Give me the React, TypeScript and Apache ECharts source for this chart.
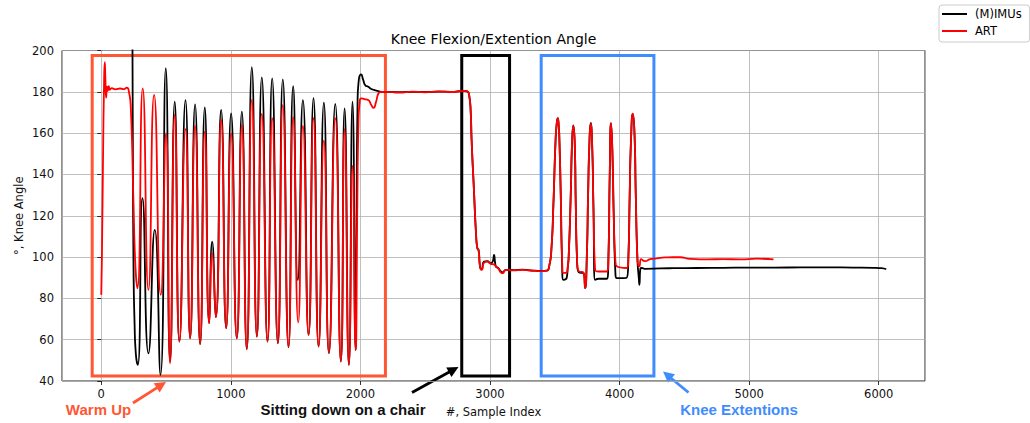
import React, { useEffect, useRef } from "react";
import * as echarts from "echarts";

// ---------- data ----------
const TITLE = "Knee Flexion/Extention Angle";
const X_NAME = "#, Sample Index";
const Y_NAME = "°, Knee Angle";
const SERIES_NAMES = ["(M)IMUs", "ART"];

// ART (red) — warm up
const artWarmUp: [number, number][] = [
  [0, 81.7], [5, 100], [14, 150], [21, 182], [27, 194.3], [32, 186], [38, 177.2], [44, 182.5], [50, 180.5],
  [58, 182.8], [66, 181], [80, 181.8], [110, 181.2], [145, 181.6], [175, 181.3], [197, 182], [212, 180.5],
  [228, 172], [248, 128], [264, 95], [279, 84.9],
  [320, 181.7], [364, 84.1], [408, 178.5], [459, 81.7], [500, 160], [531, 48.6], [567, 168.8], [603, 59.1],
  [650, 161.9], [686, 60.7], [724, 163.5], [763, 57.9], [799, 160.7], [833, 68], [856, 101.9], [884, 70.9],
  [925, 166.4], [964, 65.6], [1002, 159.9], [1046, 60.7], [1085, 163.9], [1123, 55.4], [1162, 176.1],
  [1201, 61.5], [1239, 169.3], [1283, 59.1], [1319, 167.2], [1363, 58.3], [1401, 173.6], [1445, 56.4],
  [1481, 167.7], [1520, 68.3], [1556, 163.5], [1600, 62.3], [1638, 167.2], [1677, 56.7], [1718, 156.4],
  [1757, 53.5], [1806, 167.2], [1849, 49.4], [1878, 161.9], [1911, 47.8], [1939, 144.1], [1963, 55],
  [1975, 120], [1985, 165], [1995, 175.5], [2006, 176.8], [2030, 176.5], [2060, 176], [2085, 173.5],
  [2101, 172.2], [2120, 175], [2140, 179.3], [2160, 180],
];
// ART — standing, then sitting down
const artSitting: [number, number][] = [
  [2200, 180], [2300, 179.7], [2400, 180.1], [2500, 179.8], [2600, 180.2], [2700, 179.9], [2800, 180.4],
  [2825, 180.2], [2840, 178], [2851, 170.4], [2858, 156.7], [2876, 132.5], [2892, 111.5], [2902, 104.3],
  [2912, 103], [2923, 95.4], [2936, 93.8], [2954, 97.3], [2979, 97.8], [3005, 96.7], [3030, 96.5],
  [3046, 95.4], [3064, 94.5], [3085, 92.5], [3098, 92.2], [3115, 93.5], [3129, 93.8], [3180, 93.6],
  [3250, 93.8], [3309, 93.5], [3400, 93.2], [3438, 93.4],
];
// ART — knee extensions
const artExtensions: [number, number][] = [
  [3458, 96], [3474, 104], [3489, 125], [3505, 155], [3514, 164], [3523, 167.3], [3530, 164], [3535, 158],
  [3546, 130], [3556, 100], [3566, 92.3], [3592, 92.5], [3600, 95], [3607, 100], [3623, 130], [3633, 155],
  [3643, 163.5], [3654, 155], [3662, 125], [3672, 98.7], [3687, 93], [3721, 92.6], [3734, 85], [3747, 100],
  [3757, 130], [3767, 155], [3777, 164.5], [3788, 155], [3798, 125], [3811, 94], [3840, 93], [3901, 93],
  [3914, 100], [3924, 140], [3934, 164.8], [3945, 150], [3955, 120], [3968, 98], [3978, 95.5], [4055, 94.7],
  [4068, 100], [4078, 130], [4089, 158], [4102, 169.4], [4115, 160], [4125, 130], [4138, 98.7], [4153, 95.5],
  [4166, 99], [4197, 98], [4236, 99],
];
// ART — rest
const artRest: [number, number][] = [
  [4287, 99.4], [4350, 99.8], [4415, 99.9], [4467, 99.9], [4544, 99.1], [4673, 98.9], [4800, 99],
  [4930, 98.9], [5059, 99.2], [5188, 98.9],
];

// (M)IMUs (black) — warm up
const imuWarmUp: [number, number][] = [
  [240, 215], [244, 150], [249, 95], [257, 68], [267, 53], [282, 47.8], [318, 128.5], [364, 53.4],
  [413, 113.2], [457, 43], [498, 191.4], [531, 49.4], [567, 175.2], [603, 59.1], [650, 176], [686, 60.7],
  [724, 173.9], [763, 57.9], [799, 172.5], [833, 68], [856, 107.5], [884, 70.9], [925, 171.2], [964, 65.6],
  [1002, 169.6], [1046, 60.7], [1085, 170.4], [1123, 55.4], [1162, 191.9], [1201, 61.5], [1239, 187],
  [1283, 59.1], [1319, 186.5], [1363, 58.3], [1401, 186], [1445, 56.4], [1481, 182.8], [1517, 88.9],
  [1556, 176], [1600, 62.3], [1638, 176.9], [1677, 56.7], [1718, 174.7], [1757, 53.5], [1806, 174.1],
  [1849, 49.4], [1878, 172], [1911, 47.8], [1939, 175.2], [1963, 55], [1970, 120], [1978, 175], [1988, 186],
  [2006, 188.4], [2020, 186], [2040, 183], [2060, 182.5], [2080, 181.5], [2100, 181], [2130, 180.5],
  [2160, 180],
];
// (M)IMUs — standing, then sitting down
const imuSitting: [number, number][] = [
  [2200, 180], [2300, 179.8], [2400, 180], [2500, 179.9], [2600, 180.1], [2700, 180], [2800, 180.5],
  [2825, 180.2], [2840, 178], [2851, 170.4], [2858, 156.7], [2876, 132.5], [2892, 111.5], [2902, 104.3],
  [2912, 103.5], [2923, 95.4], [2936, 94], [2954, 97.8], [2979, 98], [3005, 97], [3022, 98], [3031, 101],
  [3040, 97], [3046, 95.4], [3064, 94.6], [3085, 93], [3098, 92.6], [3115, 93.6], [3129, 93.8],
  [3180, 93.7], [3250, 93.9], [3309, 93.6], [3400, 93.3], [3438, 93.4],
];
// (M)IMUs — knee extensions
const imuExtensions: [number, number][] = [
  [3458, 96], [3474, 104], [3489, 125], [3505, 155], [3514, 164], [3523, 167.3], [3530, 164], [3535, 158],
  [3546, 130], [3556, 98], [3566, 89], [3592, 90], [3600, 95], [3607, 100], [3623, 130], [3633, 155],
  [3643, 163.8], [3654, 155], [3662, 125], [3672, 98], [3687, 92.5], [3721, 92.3], [3734, 85], [3747, 100],
  [3757, 130], [3767, 155], [3777, 165], [3788, 155], [3798, 125], [3811, 89], [3840, 89.5], [3901, 89.5],
  [3914, 100], [3924, 140], [3934, 164.8], [3945, 150], [3955, 120], [3968, 92], [3978, 89.8], [4055, 90],
  [4068, 100], [4078, 130], [4089, 158], [4102, 169.2], [4115, 160], [4125, 130], [4138, 98.7], [4148, 90],
  [4153, 86.6], [4161, 94.5], [4171, 94.7], [4200, 94.3], [4313, 94.5],
];
// (M)IMUs — rest
const imuRest: [number, number][] = [
  [4415, 94.6], [4600, 94.7], [4800, 94.8], [5000, 94.9], [5200, 94.9], [5400, 95], [5600, 95],
  [5800, 94.9], [5960, 94.8], [6020, 94.6], [6058, 94.1],
];

// annotation boxes in data coordinates: [x0, x1, y0, y1]
const warmUpBox = [-70, 2193, 42.4, 197.6];
const sittingBox = [2782, 3151, 42.4, 197.6];
const extensionBox = [3395, 4265, 42.4, 197.6];

const ORANGE = "#ff5733";
const BLUE = "#3f8cff";
const FONT = "DejaVu Sans";

function arrow(tail: [number, number], tip: [number, number], color: string) {
  const dx = tip[0] - tail[0];
  const dy = tip[1] - tail[1];
  const len = Math.hypot(dx, dy);
  const ux = dx / len;
  const uy = dy / len;
  const headLen = 11;
  const headW = 5.5;
  const bx = tip[0] - ux * headLen;
  const by = tip[1] - uy * headLen;
  return [
    {
      type: "line",
      shape: { x1: tail[0], y1: tail[1], x2: bx + ux * 2, y2: by + uy * 2 },
      style: { stroke: color, lineWidth: 2.8 },
      silent: true,
    },
    {
      type: "polygon",
      shape: {
        points: [
          [tip[0], tip[1]],
          [bx - uy * headW, by + ux * headW],
          [bx + uy * headW, by - ux * headW],
        ],
      },
      style: { fill: color },
      silent: true,
    },
  ];
}

function box(b: number[], color: string) {
  return [
    {
      xAxis: b[0],
      yAxis: b[2],
      itemStyle: { color: "rgba(0,0,0,0)", borderColor: color, borderWidth: 3 },
    },
    { xAxis: b[1], yAxis: b[3] },
  ];
}

export default function App() {
  const ref = useRef<HTMLDivElement>(null);

  useEffect(() => {
    if (!ref.current) return;
    const chart = echarts.init(ref.current, null, { renderer: "svg" });

    const axisText = { color: "#111", fontFamily: FONT, fontSize: 11.5 };

    chart.setOption({
      animation: false,
      backgroundColor: "#ffffff",
      grid: {
        left: 62,
        top: 50.5,
        right: 105,
        bottom: 42,
        show: true,
        borderColor: "#222",
        borderWidth: 1,
        backgroundColor: "rgba(0,0,0,0)",
      },
      legend: {
        data: SERIES_NAMES,
        orient: "vertical",
        left: 939,
        top: 5,
        icon: "rect",
        itemWidth: 25,
        itemHeight: 2,
        itemGap: 5,
        padding: [3, 8, 5, 3],
        borderColor: "#cccccc",
        borderWidth: 1,
        borderRadius: 3,
        backgroundColor: "rgba(255,255,255,0.8)",
        selectedMode: false,
        textStyle: { color: "#000", fontFamily: FONT, fontSize: 11.5, padding: [0, 0, 0, 3] },
      },
      xAxis: {
        type: "value",
        min: -303,
        max: 6357,
        splitNumber: 7,
        name: X_NAME,
        nameLocation: "middle",
        nameGap: 25,
        nameMoveOverlap: false,
        nameTextStyle: axisText,
        axisLine: { show: false },
        axisTick: { show: true, length: 4, lineStyle: { color: "#000", width: 0.8 } },
        axisLabel: {
          ...axisText,
          margin: 7,
          showMinLabel: false,
          showMaxLabel: false,
          formatter: (v: number) => String(v),
        },
        splitLine: { show: true, lineStyle: { color: "#b0b0b0", width: 0.8 } },
      },
      yAxis: {
        type: "value",
        min: 40,
        max: 200,
        interval: 20,
        name: Y_NAME,
        nameLocation: "middle",
        nameRotate: 90,
        nameGap: 37,
        nameMoveOverlap: false,
        nameTextStyle: axisText,
        axisLine: { show: false },
        axisTick: { show: true, length: 4, lineStyle: { color: "#000", width: 0.8 } },
        axisLabel: { ...axisText, margin: 8 },
        splitLine: { show: true, lineStyle: { color: "#b0b0b0", width: 0.8 } },
      },
      series: [
        {
          name: SERIES_NAMES[0],
          type: "line",
          data: [...imuWarmUp, ...imuSitting, ...imuExtensions, ...imuRest],
          showSymbol: false,
          smooth: 0.6,
          silent: true,
          color: "#000000",
          lineStyle: { color: "#000000", width: 1.8 },
          z: 2,
        },
        {
          name: SERIES_NAMES[1],
          type: "line",
          data: [...artWarmUp, ...artSitting, ...artExtensions, ...artRest],
          showSymbol: false,
          smooth: 0.6,
          silent: true,
          color: "#ff0000",
          lineStyle: { color: "#ff0000", width: 1.8 },
          z: 3,
        },
        {
          name: "boxes",
          type: "line",
          data: [],
          silent: true,
          z: 4,
          markArea: {
            silent: true,
            label: { show: false },
            data: [box(warmUpBox, ORANGE), box(sittingBox, "#000000"), box(extensionBox, BLUE)],
          },
        },
      ],
      graphic: [
        {
          type: "text",
          x: 493.5,
          y: 38.5,
          style: {
            text: TITLE,
            fill: "#000",
            font: `14px "${FONT}"`,
            align: "center",
            verticalAlign: "middle",
          },
        },
        {
          type: "text",
          x: 98.5,
          y: 409,
          style: {
            text: "Warm Up",
            fill: ORANGE,
            font: 'bold 15px "Liberation Sans"',
            align: "center",
            verticalAlign: "middle",
          },
        },
        {
          type: "text",
          x: 343,
          y: 409,
          style: {
            text: "Sitting down on a chair",
            fill: "#111",
            font: 'bold 15px "Liberation Sans"',
            align: "center",
            verticalAlign: "middle",
          },
        },
        {
          type: "text",
          x: 739,
          y: 409,
          style: {
            text: "Knee Extentions",
            fill: BLUE,
            font: 'bold 15px "Liberation Sans"',
            align: "center",
            verticalAlign: "middle",
          },
        },
        ...arrow([133, 403], [166, 382], ORANGE),
        ...arrow([412, 392.5], [458.5, 367], "#000000"),
        ...arrow([688.5, 392.5], [663, 371.5], BLUE),
      ],
    });

    return () => chart.dispose();
  }, []);

  return (
    <div
      ref={ref}
      style={{ position: "absolute", left: 0, top: 0, width: 1030, height: 423 }}
    />
  );
}
